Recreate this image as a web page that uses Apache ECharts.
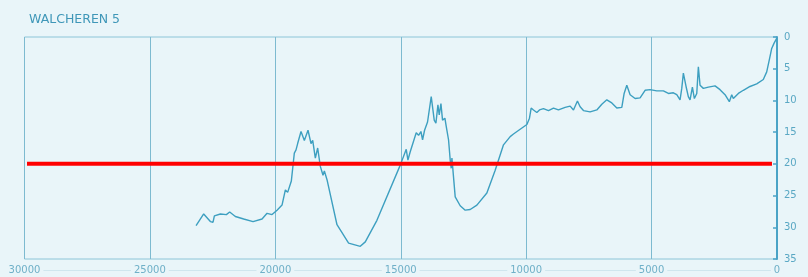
<!DOCTYPE html>
<html><head><meta charset="utf-8">
<script src="https://cdn.jsdelivr.net/npm/echarts@6/dist/echarts.min.js"></script>
<style>html,body{margin:0;padding:0;background:#e9f5f9;}#c{width:808px;height:277px;}</style>
</head><body><div id="c"></div>
<script>
const title = 'WALCHEREN 5';
const xTicks = [0, 5000, 10000, 15000, 20000, 25000, 30000];
const yTicks = [0, 5, 10, 15, 20, 25, 30, 35];
const years = [23160,22856,22590,22483,22430,22191,21952,21820,21593,21262,20888,20530,20330,20131,19932,19733,19600,19509,19362,19243,19175,19110,18976,18843,18697,18577,18510,18405,18312,18206,18099,18046,17940,17542,17079,16613,16414,15950,15020,14781,14714,14622,14383,14290,14196,14130,14050,13932,13785,13665,13598,13518,13466,13398,13334,13240,13187,13095,13028,12988,12960,12829,12630,12430,12231,11965,11567,11235,10904,10637,10506,9972,9868,9801,9708,9575,9469,9310,9111,8912,8713,8446,8247,8114,7956,7849,7716,7450,7183,6984,6785,6586,6386,6187,6094,5988,5856,5657,5458,5259,5060,4793,4529,4330,4131,3996,3865,3797,3733,3626,3535,3466,3373,3294,3199,3135,3068,2936,2737,2470,2271,2072,1900,1805,1741,1541,1342,1076,809,546,410,307,211,120,12];
const depth = [29.75,27.9,29.1,29.2,28.2,27.9,28.0,27.6,28.3,28.7,29.1,28.7,27.8,28.0,27.3,26.5,24.1,24.5,22.7,18.3,17.8,16.8,14.9,16.3,14.7,16.8,16.3,19.1,17.5,20.4,21.8,21.1,22.5,29.6,32.5,33.0,32.3,28.9,20.2,17.7,19.4,18.1,15.1,15.5,14.9,16.2,14.7,13.4,9.4,13.1,13.6,10.7,12.3,10.5,13.1,12.8,14.1,16.2,19.4,20.7,19.1,25.2,26.6,27.3,27.2,26.5,24.6,21.0,17.0,15.7,15.3,13.8,12.8,11.2,11.5,11.9,11.5,11.3,11.6,11.2,11.5,11.1,10.9,11.5,10.1,11.0,11.6,11.8,11.5,10.6,9.9,10.4,11.2,11.1,8.9,7.6,9.1,9.7,9.6,8.4,8.3,8.5,8.5,8.9,8.8,9.1,9.9,8.1,5.7,7.8,9.4,9.9,7.9,9.7,8.9,4.7,7.6,8.1,7.9,7.7,8.3,9.1,10.2,9.1,9.7,8.9,8.4,7.8,7.4,6.7,5.5,3.6,1.8,1.0,0.2];
const refX = [29900, 200];
const refY = [20, 20];

const lineColor = '#3d9fc0';
const chart = echarts.init(document.getElementById('c'));
chart.setOption({
  backgroundColor: '#e9f5f9',
  animation: false,
  title: {text: title, left: 24, top: 8, textStyle: {color: '#3f97b8', fontSize: 12.5, fontWeight: 'normal', fontFamily: 'DejaVu Sans'}},
  grid: {left: 24.5, right: 31, top: 37, bottom: 18, show: true, borderColor: '#8cc5d8', borderWidth: 1, backgroundColor: 'transparent'},
  xAxis: [{
    type: 'value', inverse: true, min: 0, max: 30000, interval: 5000, position: 'bottom',
    axisLine: {show: false}, axisTick: {show: false},
    splitLine: {show: true, lineStyle: {color: '#7dbad0', width: 1}},
    axisLabel: {color: '#6fb0c8', fontSize: 10, fontFamily: 'DejaVu Sans', margin: 6,
      backgroundColor: '#e9f5f9', padding: [0, 3],
      formatter: v => xTicks.includes(v) ? String(v) : ''}
  }, {
    type: 'value', inverse: true, min: 0, max: 30000, position: 'bottom', offset: 11,
    axisLine: {show: true, lineStyle: {color: '#cfe6ee', width: 1}},
    axisTick: {show: false}, axisLabel: {show: false}, splitLine: {show: false}
  }],
  yAxis: {
    type: 'value', inverse: true, min: 0, max: 35, interval: 5, position: 'right',
    axisLine: {show: true, lineStyle: {color: '#4aa3c6', width: 2}},
    axisTick: {show: true, inside: true, length: 4, lineStyle: {color: '#4aa3c6', width: 1.5}},
    splitLine: {show: false},
    axisLabel: {color: '#5aa8c4', fontSize: 10, fontFamily: 'DejaVu Sans', margin: 7,
      formatter: v => yTicks.includes(v) ? String(v) : ''}
  },
  series: [{
    type: 'line', name: 'curve', xAxisIndex: 0,
    data: years.map((x, i) => [x, depth[i]]),
    showSymbol: false, symbol: 'none',
    lineStyle: {color: lineColor, width: 1.4}, z: 3
  }, {
    type: 'line', name: 'ref', xAxisIndex: 0, clip: false,
    data: refX.map((x, i) => [x, refY[i]]),
    showSymbol: false, symbol: 'none',
    lineStyle: {color: '#ff0000', width: 4}, z: 4
  }]
});
</script></body></html>
